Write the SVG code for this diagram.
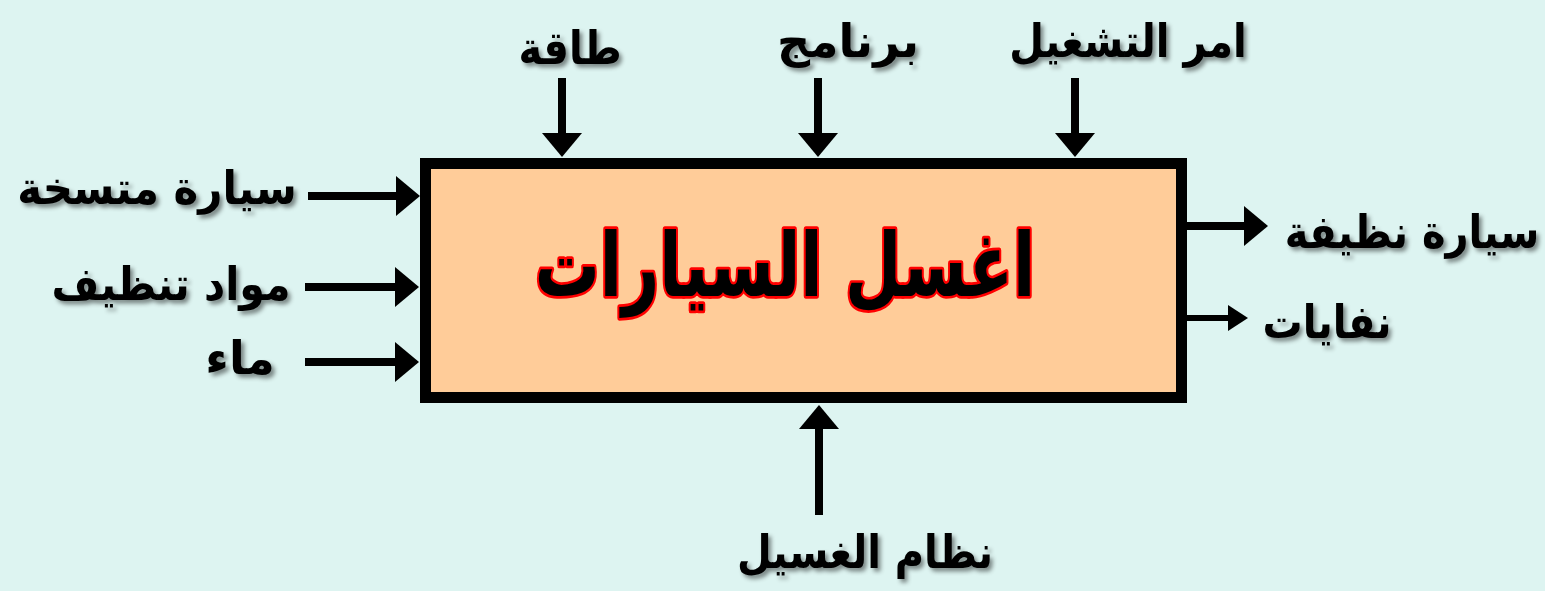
<svg xmlns="http://www.w3.org/2000/svg" width="1545" height="591" viewBox="0 0 1545 591">
<defs>
<style>
.lbl{font-family:"DejaVu Sans",sans-serif;font-weight:bold;font-size:40px;fill:#000;text-anchor:middle;filter:url(#sh)}
.title{font-family:"DejaVu Sans",sans-serif;font-weight:bold;font-size:82px;fill:#000;stroke:#ff0000;stroke-width:5;stroke-linejoin:round;text-anchor:middle;paint-order:stroke}
.ar{stroke:#000;stroke-width:8;fill:none;marker-end:url(#ah)}
.ar2{stroke:#000;stroke-width:6;fill:none;marker-end:url(#ah2)}
</style>
<filter id="sh" x="-10%" y="-20%" width="130%" height="150%">
<feDropShadow dx="3" dy="3" stdDeviation="2" flood-color="#000" flood-opacity="0.45"/>
</filter>
<marker id="ah" markerUnits="userSpaceOnUse" markerWidth="24" markerHeight="40" refX="0" refY="20" orient="auto" overflow="visible">
<path d="M0,0 L24,20 L0,40 Z" fill="#000"/>
</marker>
<marker id="ah2" markerUnits="userSpaceOnUse" markerWidth="20" markerHeight="26" refX="0" refY="13" orient="auto" overflow="visible">
<path d="M0,0 L20,13 L0,26 Z" fill="#000"/>
</marker>
</defs>
<rect x="0" y="0" width="1545" height="591" fill="#DDF4F1"/>
<g id="process">
<rect x="425.5" y="163.5" width="756" height="234" fill="#FFCC99" stroke="#000" stroke-width="11"/>
<text class="title" transform="translate(785,296) scale(0.79,1.08)" x="0" y="0">اغسل السيارات</text>
</g>
<g id="connectors">
<line class="ar" x1="308" y1="196" x2="396" y2="196"/>
<line class="ar" x1="305" y1="287" x2="395" y2="287"/>
<line class="ar" x1="305" y1="362" x2="395" y2="362"/>
<line class="ar" x1="562" y1="78" x2="562" y2="133"/>
<line class="ar" x1="818" y1="78" x2="818" y2="133"/>
<line class="ar" x1="1075" y1="78" x2="1075" y2="133"/>
<line class="ar" x1="1187" y1="226" x2="1244" y2="226"/>
<line class="ar2" x1="1187" y1="318" x2="1228" y2="318"/>
<line class="ar" x1="819" y1="515" x2="819" y2="429"/>
</g>
<g id="in1"><text class="lbl" transform="translate(157,204) scale(1.05,1.15)" x="0" y="0">سيارة متسخة</text></g>
<g id="in2"><text class="lbl" transform="translate(171,300) scale(1.03,1.15)" x="0" y="0">مواد تنظيف</text></g>
<g id="in3"><text class="lbl" transform="translate(240,374) scale(1.15,1.15)" x="0" y="0">ماء</text></g>
<g id="ctl1"><text class="lbl" transform="translate(570,64) scale(1,1.15)" x="0" y="0">طاقة</text></g>
<g id="ctl2"><text class="lbl" transform="translate(848,57) scale(1.15,1.15)" x="0" y="0">برنامج</text></g>
<g id="ctl3"><text class="lbl" transform="translate(1128,57) scale(1,1.15)" x="0" y="0">امر التشغيل</text></g>
<g id="out1"><text class="lbl" transform="translate(1412,248) scale(1,1.15)" x="0" y="0">سيارة نظيفة</text></g>
<g id="out2"><text class="lbl" transform="translate(1327,338) scale(1,1.15)" x="0" y="0">نفايات</text></g>
<g id="mech"><text class="lbl" transform="translate(865,568) scale(1,1.15)" x="0" y="0">نظام الغسيل</text></g>
</svg>
